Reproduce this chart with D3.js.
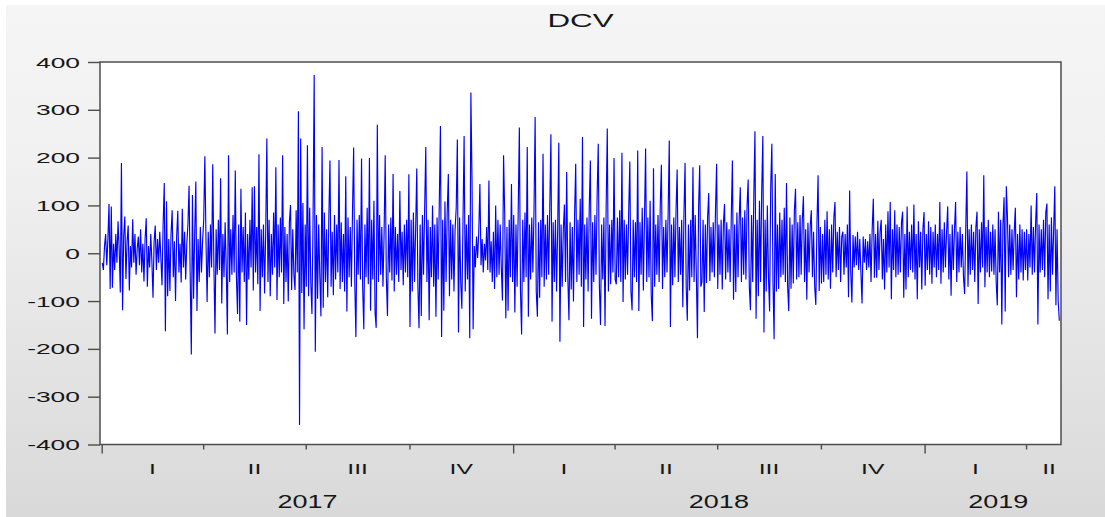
<!DOCTYPE html>
<html>
<head>
<meta charset="utf-8">
<script src="https://cdn.jsdelivr.net/npm/d3@7"></script>
<style>
  html, body { margin: 0; padding: 0; background: #ffffff; }
  svg { display: block; }
</style>
</head>
<body>
<script>
// Daily DCV series, one value per calendar day starting on firstDay.
const seriesName = "DCV";
const firstDay = "2017-01-01";

const dcv2017 = [
  -20, -35, 15, 40, -25, 30, 103,
  -75, 98, -72, 20, -35, 40, -20,
  67, 10, -82, 189, -119, 35, 77,
  -54, 25, 58, -78, 15, -30, 71,
  -20, 40, -45, 10, 35, -25, 50,
  -40, 20, -59, 30, 73, -70, 15,
  -30, 40, -15, -93, 25, 58, -35,
  30, -20, 45, -10, -67, 60, 147,
  -163, 109, -90, 30, -79, 40, 90,
  -50, 25, -100, 35, 89, -40, 20,
  -61, 93, -30, 45, -55, 20, 60,
  141, -45, -212, 122, -95, 40, 150,
  -121, 30, -60, 55, -40, 25, 70,
  203, 30, -102, 45, -50, 60, -30,
  186, -20, -168, 50, -45, 70, -35,
  157, -105, 40, -50, 65, -30, -170,
  205, -60, 50, -45, 80, -40, 173,
  -50, -127, 60, -143, 135, -40, 55,
  -60, 85, -150, 40, -55, 70, -30,
  138, -78, 140, -40, 55, -65, 207,
  -121, 50, -50, 60, -84, 45, 240,
  -60, 70, -90, 40, -45, 85, -30,
  180, -98, 60, -50, 75, -40, 205,
  -106, 55, -60, 40, -101, 65, 101,
  -77, 50, -45, -77, 90, -40, 297,
  -359, 240, -83, 105, -159, 60, -70,
  226, -90, 95, -60, -127, 70, 373,
  -206, 80, -95, 60, -50, -132, 222,
  -114, 85, -60, 50, -92, 75, 194,
  -70, 45, -88, 80, -55, 60, -40,
  195, -75, 65, -60, 40, -80, 161,
  -122, 75, -50, 55, -70, 90, 221,
  -60, -175, 70, -45, 80, -55, 198,
  -70, -159, 60, -50, 95, -65, 199,
  -120, 70, -55, 110, -124, -156, 269,
  -60, 80, -45, 55, -70, 40, 205,
  -50, -131, 60, -40, 75, -57, 166,
  -80, 55, -45, 40, -60, 130, -35,
  45, -67, 60, -40, 70, -50, 165,
  -154, 70, -80, 85, -60, 50, 177,
  -70, -157, 60, -131, 80, -45, 95,
  222, -60, 70, -140, 55, -50, 100,
  -70, 60, -133, 75, -55, 110, 266,
  -175, 70, -120, 108, -60, 85, 166,
  -90, 70, -55, 60, -80, 50, 95,
  238, -166, 75, -60, -116, 65, 245,
  -80, 60, -55, 80, -178, 336, 154,
  -159, 15, -30, 35, -10, 45, 145,
  -25, 30, -40, 20, -15, 55, -35,
  152, -40, 25, -60, 45, -75, 100,
  -50, 70, -45, 60, -30, -99, 205,
  84, -136, 55, -120, 70, -50, 145,
  -60
];

const dcv2018 = [
  80, -124, 60, -70, 90, 263,
  -80, -170, 70, -60, 85, -50, 222,
  -133, 60, -55, 75, -40, 90, 285,
  -80, -133, 65, -93, 70, -50, 208,
  -70, 60, -55, 80, -45, 95, 249,
  -143, 65, -60, 70, -80, 50, 231,
  -185, 60, -70, 50, 102, -60, 170,
  -50, -140, 65, -76, 55, -101, 80,
  187, -60, 70, -45, 114, -70, 243,
  -154, 60, -55, 75, -80, 95, 194,
  -137, 65, -60, 80, -45, 120, 229,
  -70, -150, 60, -55, 75, -152, 95,
  261, -80, 60, -65, 70, -40, 199,
  -55, -65, 75, -50, 90, -60, 210,
  -102, 70, -55, 60, -45, 85, 192,
  -80, -119, 70, -50, 65, -60, 215,
  -121, 65, -45, 95, -78, 70, 219,
  -60, 75, -50, 110, -88, -142, 178,
  -70, 60, -45, 80, -60, 100, 185,
  -75, 55, -50, 70, -40, 85, 236,
  -154, 60, -67, 75, -50, 90, 175,
  -60, 55, -45, 70, -113, 80, 189,
  -70, -141, 60, -78, 70, -50, 180,
  -60, 80, -45, -178, 95, 184, -70,
  -60, 70, -123, 60, -62, 75, 126,
  -58, 55, -40, 65, -50, 90, 187,
  -75, 60, -45, 70, -76, 60, 103,
  -55, 65, -40, 50, -60, 75, 194,
  -97, 60, -81, 85, -50, 70, 138,
  -60, 75, -45, 90, -55, 100, 154,
  -70, -119, 80, -60, 120, 255, -137,
  70, -90, 110, -60, 130, 245, -166,
  70, -80, 100, -50, -122, 140, 229,
  -60, -180, 166, -80, 60, -75, 85,
  -50, 70, -45, 95, -60, 147, -70,
  -121, 75, -74, 60, -63, 90, 135,
  -55, 65, -50, 80, -45, 70, 119,
  -60, 50, -97, 64, -40, 55, 90,
  -50, 45, -70, -108, 60, 163, -79,
  55, -63, 40, -60, 70, -45, 88,
  -55, 50, -74, 60, -40, 75, 107,
  -50, 45, -35, 55, -60, 35, 45,
  -45, 40, -30, 60, -92, 131, -40,
  -103, 38, -30, 35, -25, 45, -35,
  30, -40, -105, 35, -20, 30, -35,
  25, -30, 40, -60, 50, 114, -51,
  40, -51, 68, -35, 45, 70, -55,
  30, -76, 60, -40, 88, -30, 107,
  -96, 50, -35, 90, -50, 60, -45,
  55, -40, 65, 87, -93, 40, -76,
  98, -50, 45, -35, 60, -40, 102,
  -55, 40, -96, 67, -30, 45, -76,
  50, 86
];

const dcv2019 = [
  -68, 40, -35, 67, -45,
  55, -64, 45, -30, 60, -50, 40,
  -35, 107, -64, 50, -40, 65, -30,
  45, 98, -55, 40, -89, 60, -35,
  50, 107, -60, 45, -40, 55, -30,
  40, -50, -85, 50, 171, -70, 50,
  -45, 60, -35, 45, -60, 55, 87,
  -106, 50, -40, 65, -30, 163, -71,
  55, -40, 70, -50, 45, -38, 60,
  -45, 50, -60, -109, 87, -40, 70,
  -149, 60, 117, -122, 140, 75, -50,
  60, -45, 50, -35, 45, 95, -92,
  40, -55, 60, -40, 50, -57, 45,
  -35, 50, -57, 40, -30, 100, -45,
  55, -40, 65, 126, -149, 60, -40,
  50, -35, 70, -50, 85, 104, -96,
  60, -80, 75, -45, 50, 140, -109,
  50, -100, -141
];

const yTickValues = [-400, -300, -200, -100, 0, 100, 200, 300, 400];
const quarterLabels = ["I", "II", "III", "IV"];

// ---------------------------------------------------------------------------
const W = 1105, H = 517;
const frame = { left: 100, right: 1061, top: 62, bottom: 444.5 };
const font = "'Liberation Sans', Arial, Helvetica, sans-serif";
const textColor = "#161616";

const values = dcv2017.concat(dcv2018, dcv2019);
const t0 = d3.utcParse("%Y-%m-%d")(firstDay);
const points = values.map((v, i) => ({ date: d3.utcDay.offset(t0, i), value: v }));
const tEnd = d3.utcDay.offset(t0, values.length + 1);

const x = d3.scaleUtc().domain([t0, tEnd]).range([101.7, frame.right]);
const y = d3.scaleLinear().domain([-400, 400]).range([frame.bottom, frame.top]);

const svg = d3.select("body").append("svg")
  .attr("width", W).attr("height", H)
  .attr("viewBox", `0 0 ${W} ${H}`);

// page background: soft vertical grey gradient
const defs = svg.append("defs");
const grad = defs.append("linearGradient").attr("id", "bg")
  .attr("x1", 0).attr("y1", 0).attr("x2", 0).attr("y2", 1);
grad.append("stop").attr("offset", "0%").attr("stop-color", "#f5f5f5");
grad.append("stop").attr("offset", "30%").attr("stop-color", "#f1f1f1");
grad.append("stop").attr("offset", "100%").attr("stop-color", "#d9d9d9");

svg.append("rect").attr("width", W).attr("height", H).attr("fill", "#ffffff");
svg.append("rect").attr("x", 6).attr("y", 5)
  .attr("width", W - 6).attr("height", H - 5).attr("fill", "url(#bg)");

defs.append("clipPath").attr("id", "plotClip").append("rect")
  .attr("x", frame.left).attr("y", frame.top)
  .attr("width", frame.right - frame.left).attr("height", frame.bottom - frame.top);

// plot area
svg.append("rect")
  .attr("x", frame.left).attr("y", frame.top)
  .attr("width", frame.right - frame.left).attr("height", frame.bottom - frame.top)
  .attr("fill", "#ffffff");

// series line, each day drawn at the middle of its slot
const line = d3.line()
  .x(d => x(d3.utcHour.offset(d.date, 12)))
  .y(d => y(d.value));

svg.append("path")
  .datum(points)
  .attr("clip-path", "url(#plotClip)")
  .attr("fill", "none")
  .attr("stroke", "#0000ff")
  .attr("stroke-width", 1.15)
  .attr("stroke-linejoin", "miter")
  .attr("d", line);

// frame
svg.append("rect")
  .attr("x", frame.left).attr("y", frame.top)
  .attr("width", frame.right - frame.left).attr("height", frame.bottom - frame.top)
  .attr("fill", "none").attr("stroke", "#4d4d4d").attr("stroke-width", 1.5);

// y axis
const gy = svg.append("g")
  .attr("transform", `translate(${frame.left},0)`)
  .call(d3.axisLeft(y).tickValues(yTickValues).tickSize(12).tickPadding(0)
    .tickFormat(d => String(d)));
gy.select(".domain").remove();
gy.selectAll(".tick line").attr("stroke", "#4d4d4d").attr("stroke-width", 1.4);
gy.selectAll(".tick text")
  .attr("x", 0).attr("dy", null)
  .attr("transform", "translate(-20,5) scale(1.76,1)")
  .attr("text-anchor", "end")
  .attr("fill", textColor)
  .style("font-family", font)
  .style("font-size", "15px");

// x axis: quarter ticks, longer ticks at year starts
const quarterStarts = d3.utcMonth.every(3).range(t0, tEnd);
const gx = svg.append("g")
  .attr("transform", `translate(0,${frame.bottom})`)
  .call(d3.axisBottom(x).tickValues(quarterStarts).tickSize(5).tickFormat(""));
gx.select(".domain").remove();
gx.selectAll(".tick line")
  .attr("stroke", "#4d4d4d").attr("stroke-width", 1.4)
  .attr("y2", d => d.getUTCMonth() === 0 ? 9 : 5);

// period labels are centred over each period's span along the axis
const labelEnd = frame.right + 11;
const spanCenter = (a, b) => (x(a) + Math.min(x(b), labelEnd)) / 2;

const qLabels = svg.append("g");
quarterStarts.forEach(q => {
  const next = d3.utcMonth.offset(q, 3);
  const cx = spanCenter(q, next);
  qLabels.append("text")
    .attr("transform", `translate(${cx},474) scale(1.65,1)`)
    .attr("text-anchor", "middle")
    .attr("fill", textColor)
    .style("font-family", font)
    .style("font-size", "15px")
    .text(quarterLabels[Math.floor(q.getUTCMonth() / 3)]);
});

const yearStarts = d3.utcYear.range(t0, tEnd);
const yLabels = svg.append("g");
yearStarts.forEach(ys => {
  const cx = spanCenter(ys, d3.utcYear.offset(ys, 1));
  yLabels.append("text")
    .attr("transform", `translate(${cx},508) scale(1.5,1)`)
    .attr("text-anchor", "middle")
    .attr("fill", textColor)
    .style("font-family", font)
    .style("font-size", "18px")
    .text(ys.getUTCFullYear());
});

// title
svg.append("text")
  .attr("transform", `translate(${(frame.left + frame.right) / 2},27) scale(1.65,1)`)
  .attr("text-anchor", "middle")
  .attr("fill", textColor)
  .style("font-family", font)
  .style("font-size", "19px")
  .text(seriesName);
</script>
</body>
</html>
